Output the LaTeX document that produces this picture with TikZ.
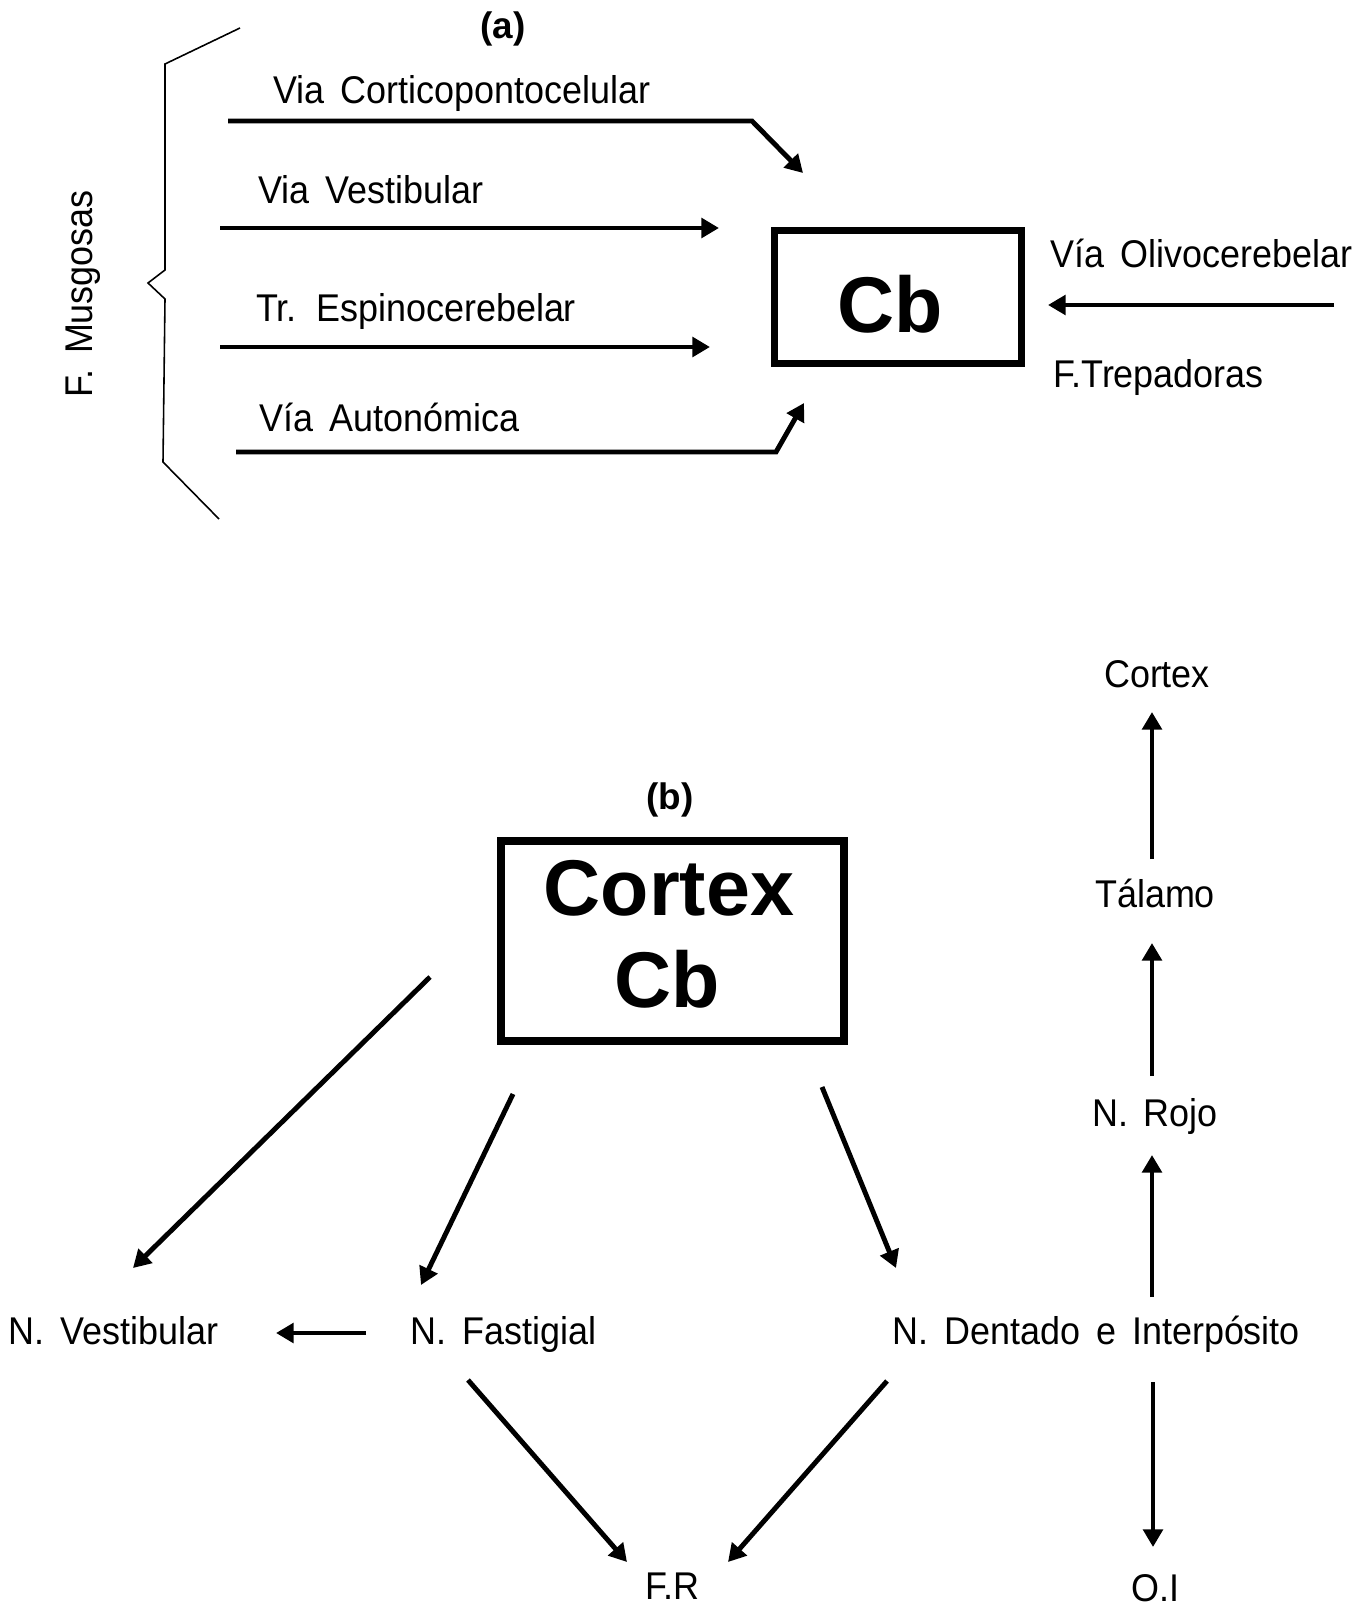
\documentclass[tikz,border=0pt]{standalone}
\usepackage{fontspec}
\setmainfont{Liberation Sans}[FakeStretch=0.93, WordSpace=1.6]
\newfontfamily\boldf{Liberation Sans}
\usetikzlibrary{arrows.meta}
\begin{document}
\begin{tikzpicture}[x=0.02cm,y=-0.02cm,
  lbl/.style={font=\fontsize{22}{26}\selectfont, inner sep=0pt},
  tag/.style={font=\boldf\bfseries\fontsize{21}{24}\selectfont, inner sep=0pt},
  big/.style={font=\boldf\bfseries\fontsize{45}{53}\selectfont, inner sep=0pt, anchor=base},
  boxed/.style={draw, inner sep=0pt},
  arr/.style={line width=2.8pt, -{Triangle[length=10pt,width=11pt]}},
  brace/.style={line width=0.9pt, line join=miter}]
\useasboundingbox (0,0) rectangle (1367,1618);
\fill[white] (0,0) rectangle (1367,1618);

% ---------- (a) ----------
\node[tag] (ta) at (503,29) {(a)};
\draw[brace] (240,28) -- (165,64) -- (165,270) -- (148,283) -- (165,299) -- (163,462) -- (219,519);
\node[lbl, rotate=90] (musg) at (83,294) {F. Musgosas};

\node[boxed, line width=4pt, minimum width=4.94cm, minimum height=2.66cm] (cb) at (898,297) {};
\node[big] (cbt) at (890,333) {Cb};

\node[lbl, anchor=base west] (l1) at (273,104) {Via Corticopontocelular};
\node[lbl, anchor=base west] (l2) at (258,204) {Via Vestibular};
\node[lbl, anchor=base west] (l3) at (256,321) {Tr. Espinocerebelar};
\node[lbl, anchor=base west] (l4) at (259,431) {Vía Autonómica};
\node[lbl, anchor=base west] (l5) at (1050,268) {Vía Olivocerebelar};
\node[lbl, anchor=base west] (l6) at (1053,387) {F.Trepadoras};

\coordinate (a1s) at (228,121);
\coordinate (a1b) at (752,121);
\coordinate (a1e) at (803,173);
\coordinate (a2s) at (220,228);
\coordinate (a2e) at (719,228);
\coordinate (a3s) at (220,347);
\coordinate (a3e) at (710,347);
\coordinate (a4s) at (236,452);
\coordinate (a4b) at (776,452);
\coordinate (a4e) at (804,403);
\coordinate (a5s) at (1334,305);
\coordinate (a5e) at (1048,305);

\draw[arr] (a1s) -- (a1b) -- (a1e);
\draw[arr] (a2s) -- (a2e);
\draw[arr] (a3s) -- (a3e);
\draw[arr] (a4s) -- (a4b) -- (a4e);
\draw[arr] (a5s) -- (a5e);

% ---------- (b) ----------
\node[tag] (tb) at (670,800) {(b)};
\node[boxed, line width=4.5pt, minimum width=6.86cm, minimum height=4.0cm] (ccb) at (672.5,941) {};
\node[big] (ccbt1) at (669,915) {Cortex};
\node[big] (ccbt2) at (667,1007) {Cb};

\node[lbl, anchor=base west] (nv) at (8,1344) {N. Vestibular};
\node[lbl, anchor=base west] (nf) at (410,1344) {N. Fastigial};
\node[lbl, anchor=base west] (nd) at (892,1344) {N. Dentado e Interpósito};
\node[lbl, anchor=base] (fr) at (672,1599) {F.R};
\node[lbl, anchor=base] (oi) at (1155,1601) {O.I};
\node[lbl, anchor=base] (rojo) at (1155,1126) {N. Rojo};
\node[lbl, anchor=base] (tal) at (1155,907) {Tálamo};
\node[lbl, anchor=base] (ctx) at (1157,687) {Cortex};

\coordinate (b1s) at (430,977);
\coordinate (b1e) at (133,1268);
\coordinate (b2s) at (513,1094);
\coordinate (b2e) at (421,1285);
\coordinate (b3s) at (822,1087);
\coordinate (b3e) at (896,1268);
\coordinate (b4s) at (366,1333);
\coordinate (b4e) at (276,1333);
\coordinate (b5s) at (468,1380);
\coordinate (b5e) at (627,1562);
\coordinate (b6s) at (887,1381);
\coordinate (b6e) at (728,1562);
\coordinate (b7s) at (1153,1382);
\coordinate (b7e) at (1153,1547);
\coordinate (b8s) at (1152,1297);
\coordinate (b8e) at (1152,1155);
\coordinate (b9s) at (1152,1076);
\coordinate (b9e) at (1152,943);
\coordinate (b10s) at (1152,859);
\coordinate (b10e) at (1152,712);

\draw[arr] (b1s) -- (b1e);
\draw[arr] (b2s) -- (b2e);
\draw[arr] (b3s) -- (b3e);
\draw[arr] (b4s) -- (b4e);
\draw[arr] (b5s) -- (b5e);
\draw[arr] (b6s) -- (b6e);
\draw[arr] (b7s) -- (b7e);
\draw[arr] (b8s) -- (b8e);
\draw[arr] (b9s) -- (b9e);
\draw[arr] (b10s) -- (b10e);
\end{tikzpicture}
\end{document}
